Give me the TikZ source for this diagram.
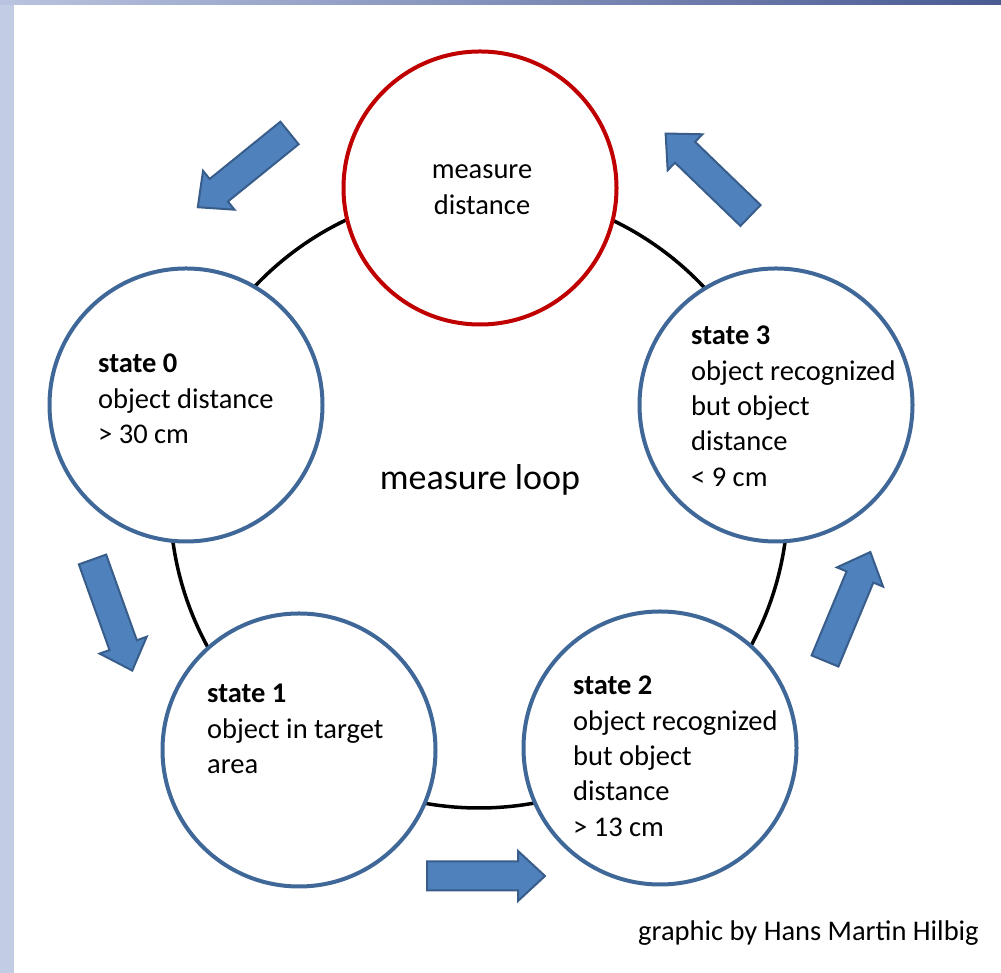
\documentclass[tikz,border=0pt]{standalone}
\usepackage{fontspec}
\setmainfont{Carlito}
\definecolor{arrowfill}{HTML}{4F81BD}
\definecolor{arrowline}{HTML}{385D8A}
\definecolor{ringblue}{HTML}{3F6798}
\definecolor{ringred}{HTML}{C00000}
\definecolor{stripL}{HTML}{C3CCE5}
\definecolor{stripTL}{HTML}{BAC4E0}
\definecolor{stripR}{HTML}{4A5B93}
\newcommand\BlockArrow[3]{%
  \begin{scope}[shift={(#1,#2)},rotate=#3]
    \draw[blockarrow] (0,-14.5) -- (91,-14.5) -- (91,-25) -- (118,0) -- (91,25) -- (91,14.5) -- (0,14.5) -- cycle;
  \end{scope}}
\begin{document}
\begin{tikzpicture}[x=1pt,y=1pt,
  statecircle/.style={circle, draw=ringblue, line width=4pt, fill=white, minimum size=273pt, inner sep=0pt},
  measurecircle/.style={statecircle, draw=ringred},
  textfont/.style={font=\fontsize{28.5}{35.3}\selectfont},
  statetext/.style={textfont, align=left, anchor=base west, inner sep=0pt},
  blockarrow/.style={fill=arrowfill, draw=arrowline, line width=2pt, line join=miter}]
\useasboundingbox (0,0) rectangle (1001,973);
\fill[white] (0,0) rectangle (1001,973);
\fill[stripL] (0,0) rectangle (14,973);
\shade[left color=stripTL, right color=stripR] (0,968) rectangle (1001,973);

% loop ring
\draw[line width=3.5pt] (479,474) circle (309);

% circles
\node[measurecircle] (measure) at (480,785) {};
\node[statecircle] (s0) at (186,568) {};
\node[statecircle] (s3) at (776,568) {};
\node[statecircle] (s1) at (299,223) {};
\node[statecircle] (s2) at (660,225) {};

% texts (anchor = baseline of the last line)
\node[textfont, align=center, anchor=base, inner sep=0pt] (mtext) at (482,758.7) {measure\\distance};
\node[statetext] (t0) at (98,529.4) {\textbf{state 0}\\object distance\\> 30 cm};
\node[statetext] (t3) at (691,486.8) {\textbf{state 3}\\object recognized\\but object\\distance\\< 9 cm};
\node[statetext] (t1) at (207,199.4) {\textbf{state 1}\\object in target\\area};
\node[statetext] (t2) at (573,136.8) {\textbf{state 2}\\object recognized\\but object\\distance\\> 13 cm};
\node[font=\fontsize{36}{43}\selectfont, anchor=base, inner sep=0pt] (loop) at (480,483) {measure loop};
\node[textfont, anchor=base west, inner sep=0pt] (credit) at (638,32) {graphic by Hans Martin Hilbig};

% block arrows
\BlockArrow{289.5}{840}{219}
\BlockArrow{750.5}{757.5}{136}
\BlockArrow{92.5}{413.5}{-70.3}
\BlockArrow{427}{97}{0}
\BlockArrow{825}{312}{67.4}
\end{tikzpicture}
\end{document}
